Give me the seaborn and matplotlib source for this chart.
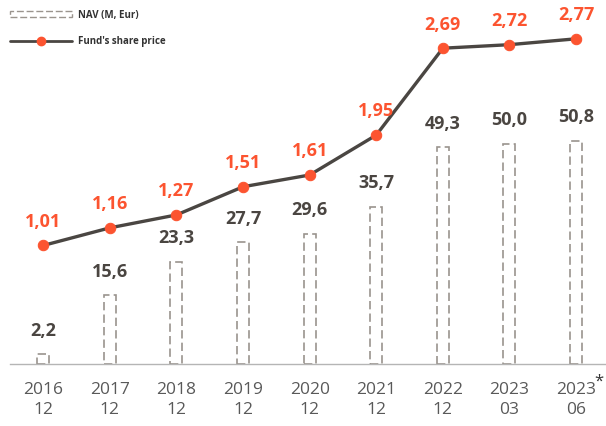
import numpy as np
import matplotlib
matplotlib.use("Agg")
import matplotlib.pyplot as plt
import seaborn as sns
from matplotlib.lines import Line2D
from matplotlib.patches import Patch

# chart data
years = ["2016", "2017", "2018", "2019", "2020", "2021", "2022", "2023", "2023"]
months = ["12", "12", "12", "12", "12", "12", "12", "03", "06"]
nav = [2.2, 15.6, 23.3, 27.7, 29.6, 35.7, 49.3, 50.0, 50.8]
price = [1.01, 1.16, 1.27, 1.51, 1.61, 1.95, 2.69, 2.72, 2.77]

NAV_COLOR = "#9a948e"
LINE_COLOR = "#4a4642"
DOT_COLOR = "#fc5430"
TEXT_DARK = "#4a4541"
TICK_COLOR = "#595959"

sns.set_theme(style="white")
plt.rcParams["font.family"] = ["Open Sans", "DejaVu Sans"]

fig = plt.figure(figsize=(6.06, 4.26), dpi=100)
ax = fig.add_axes([0.0165, 0.1455, 0.9835, 0.8075])

labels = [f"{y}\n{m}" for y, m in zip(years, months)]
x_pos = np.arange(len(labels))

sns.barplot(x=labels, y=nav, ax=ax, width=0.18, fill=False,
            color=NAV_COLOR, linestyle=(0, (5, 2.5)), linewidth=1.2)
for i, v in enumerate(nav):
    ax.annotate(f"{v:.1f}".replace(".", ","), (i, v), xytext=(0, 10.5),
                textcoords="offset points", ha="center", va="bottom",
                fontsize=13, fontweight="bold", color=TEXT_DARK)

ax.set_xlim(-0.5, 8.45)
ax.set_ylim(0, 78.2)
ax.set_yticks([])
ax.set_xticks(x_pos)
ax.set_xticklabels(labels, fontsize=12.5, color=TICK_COLOR, linespacing=1.35)
ax.tick_params(axis="x", length=0, pad=13)
ax.set_xlabel("")
ax.set_ylabel("")
for s in ["top", "left", "right"]:
    ax.spines[s].set_visible(False)
ax.spines["bottom"].set_color("#b5b5b5")
ax.spines["bottom"].set_linewidth(1.0)

ax2 = ax.twinx()
sns.lineplot(x=x_pos, y=price, ax=ax2, color=LINE_COLOR, linewidth=2.4,
             marker="o", markersize=7.5, markerfacecolor=DOT_COLOR,
             markeredgecolor=DOT_COLOR)
for i, v in enumerate(price):
    ax2.annotate(f"{v:.2f}".replace(".", ","), (i, v), xytext=(0, 10.5),
                 textcoords="offset points", ha="center", va="bottom",
                 fontsize=13, fontweight="bold", color=DOT_COLOR)
ax2.set_ylim(0, 2.93)
ax2.set_xlim(-0.5, 8.45)
ax2.set_yticks([])
ax2.set_ylabel("")
for s in ax2.spines.values():
    s.set_visible(False)

# asterisk on the last period
fig.text(0.988, 0.105, "*", fontsize=12, color="#333333", ha="center", va="center")

handles = [
    Patch(facecolor="white", edgecolor=NAV_COLOR, linestyle=(0, (5, 2)), linewidth=1.0),
    Line2D([0], [0], color=LINE_COLOR, linewidth=2, marker="o", markersize=6,
           markerfacecolor=DOT_COLOR, markeredgecolor=DOT_COLOR),
]
leg = ax2.legend(handles, ["NAV (M, Eur)", "Fund's share price"], loc="upper left",
                 bbox_to_anchor=(0.0, 1.0), bbox_transform=fig.transFigure,
                 frameon=False, prop={"size": 7, "weight": "bold"},
                 handlelength=6.4, handleheight=0.5, handletextpad=0.6,
                 labelspacing=1.6, borderaxespad=0.6)
for t in leg.get_texts():
    t.set_color("#333333")

fig.savefig("out.png", dpi=100)
